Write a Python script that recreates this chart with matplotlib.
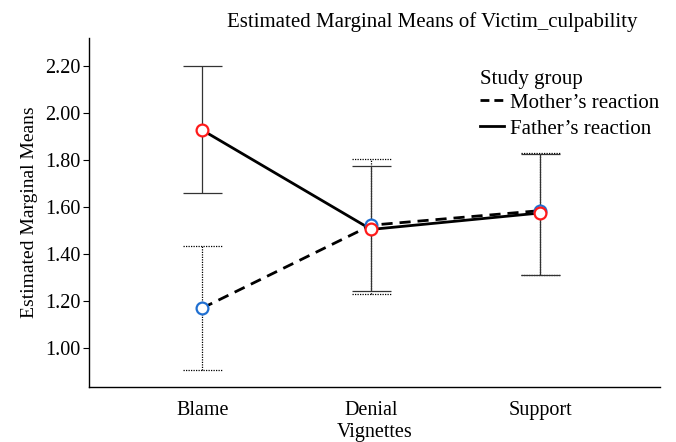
import matplotlib
matplotlib.use("Agg")
import matplotlib.pyplot as plt
from matplotlib.lines import Line2D

# data
vignettes = ["Blame", "Denial", "Support"]
mother_mean = [1.17, 1.523, 1.585]
mother_low = [0.906, 1.229, 1.309]
mother_high = [1.434, 1.805, 1.832]
father_mean = [1.928, 1.505, 1.575]
father_low = [1.66, 1.243, 1.312]
father_high = [2.20, 1.774, 1.828]
yticks = [1.00, 1.20, 1.40, 1.60, 1.80, 2.00, 2.20]

plt.rcParams["font.family"] = ["Liberation Serif", "DejaVu Serif"]

fig = plt.figure(figsize=(6.76, 4.42), dpi=100)
ax = fig.add_axes([0.1317, 0.1244, 0.8447, 0.7896])

x = list(range(1, len(vignettes) + 1))
cap = 0.115

# error bars: mother dotted, father solid
ax.vlines(x, mother_low, mother_high, colors="black", linestyles=(0, (1, 1)), linewidth=0.9, zorder=2)
ax.hlines(mother_low, [v - cap for v in x], [v + cap for v in x], colors="black", linestyles=(0, (1, 1)), linewidth=0.9, zorder=2)
ax.hlines(mother_high, [v - cap for v in x], [v + cap for v in x], colors="black", linestyles=(0, (1, 1)), linewidth=0.9, zorder=2)
ax.vlines(x, father_low, father_high, colors="#333333", linewidth=0.9, zorder=2)
ax.hlines(father_low, [v - cap for v in x], [v + cap for v in x], colors="#333333", linewidth=0.9, zorder=2)
ax.hlines(father_high, [v - cap for v in x], [v + cap for v in x], colors="#333333", linewidth=0.9, zorder=2)

# mean lines
ax.plot(x, mother_mean, color="black", linestyle=(0, (4, 2.5)), linewidth=2, zorder=3)
ax.plot(x, father_mean, color="black", linestyle="-", linewidth=2, zorder=3)
ax.plot(x, mother_mean, "o", ms=8.5, mfc="white", mec="#1f6fd1", mew=1.6, zorder=4)
ax.plot(x, father_mean, "o", ms=8.5, mfc="white", mec="#ff1a1a", mew=1.6, zorder=4)

ax.set_xlim(0.33, 3.71)
ax.set_ylim(0.834, 2.32)
ax.set_xticks(x)
ax.set_xticklabels(vignettes, fontsize=14.5)
ax.set_yticks(yticks)
ax.set_yticklabels(["%.2f" % v for v in yticks], fontsize=14.5)
ax.tick_params(axis="x", length=0, pad=10)
ax.tick_params(axis="y", length=4, width=0.8, pad=2)
for s in ["top", "right"]:
    ax.spines[s].set_visible(False)
ax.spines["left"].set_linewidth(1.0)
ax.spines["bottom"].set_linewidth(1.0)

ax.set_ylabel("Estimated Marginal Means", fontsize=14, labelpad=5)
ax.set_xlabel("Vignettes", fontsize=14.5, labelpad=2)
fig.text(432 / 676, 1 - 22 / 442, "Estimated Marginal Means of Victim_culpability",
         ha="center", va="center", fontsize=15)

handles = [Line2D([], [], color="black", linestyle=(0, (3.2, 1.8)), linewidth=2),
           Line2D([], [], color="black", linestyle="-", linewidth=2)]
leg = ax.legend(handles, ["Mother’s reaction", "Father’s reaction"], title="Study group",
                loc="upper left", bbox_to_anchor=(480 / 676, 1 - 70 / 442),
                bbox_transform=fig.transFigure, frameon=False, fontsize=15,
                title_fontsize=15, handlelength=1.15, handletextpad=0.3,
                labelspacing=0.3, borderpad=0, borderaxespad=0)
leg._legend_box.align = "left"
leg._legend_box.sep = 3

fig.savefig("out.png", dpi=100)
